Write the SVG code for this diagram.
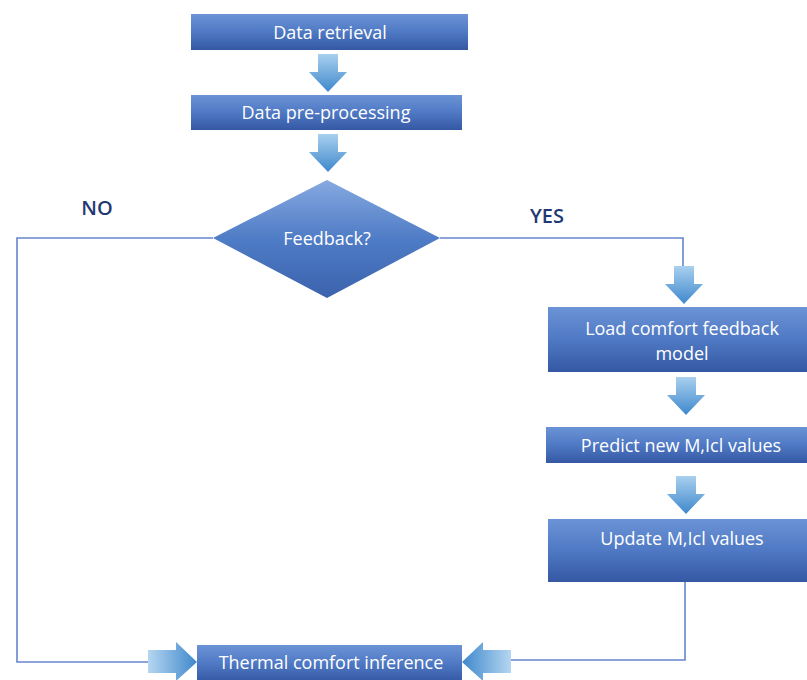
<svg xmlns="http://www.w3.org/2000/svg" width="807" height="680" viewBox="0 0 807 680">
<defs>
<linearGradient id="box" x1="0" y1="0" x2="0" y2="1">
<stop offset="0" stop-color="#6b93d6"/><stop offset="0.5" stop-color="#4f79c4"/><stop offset="1" stop-color="#3558a3"/>
</linearGradient>
<linearGradient id="dia" x1="0" y1="0" x2="0" y2="1">
<stop offset="0" stop-color="#86a9e0"/><stop offset="0.5" stop-color="#4f7cc6"/><stop offset="1" stop-color="#3b62ad"/>
</linearGradient>
<linearGradient id="arD" x1="0" y1="0" x2="0" y2="1">
<stop offset="0" stop-color="#a9d0ef"/><stop offset="1" stop-color="#3f88cc"/>
</linearGradient>
<linearGradient id="arR" x1="0" y1="0" x2="1" y2="0">
<stop offset="0" stop-color="#b5d6f1"/><stop offset="1" stop-color="#3f88cc"/>
</linearGradient>
<linearGradient id="arL" x1="1" y1="0" x2="0" y2="0">
<stop offset="0" stop-color="#b5d6f1"/><stop offset="1" stop-color="#3f88cc"/>
</linearGradient>
<path id="down" d="M-10,0 H10 V18 H19 L0,38 L-19,18 H-10 Z"/>
</defs>
<style>
.box{fill:url(#box)}
.t{fill:#fff;font-family:"Open Sans","Liberation Sans",sans-serif;font-size:18px;text-anchor:middle}
.lbl{fill:#1f3a72;font-family:"Open Sans","Liberation Sans",sans-serif;font-size:20px;font-weight:600;text-anchor:middle}
.ln{fill:none;stroke:#6585cc;stroke-width:1.6}
.ad{fill:url(#arD)}
</style>
<rect width="807" height="680" fill="#fff"/>
<g id="connectors">
<polyline class="ln" points="213,238 17,238 17,662 148,662"/>
<polyline class="ln" points="440,238 683,238 683,266"/>
<polyline class="ln" points="685,582 685,660 511,660"/>
<use href="#down" class="ad" x="328" y="54"/>
<use href="#down" class="ad" x="328" y="134"/>
<use href="#down" class="ad" x="684" y="266"/>
<use href="#down" class="ad" x="686" y="377"/>
<use href="#down" class="ad" x="686" y="476"/>
<path fill="url(#arR)" d="M148,650 H176 V642 L197,662 L176,681 V673 H148 Z"/>
<path fill="url(#arL)" d="M511,650 H483 V642 L462,662 L483,681 V673 H511 Z"/>
</g>
<g id="n1"><rect class="box" x="191" y="14" width="277" height="36"/><text class="t" x="330" y="38.5">Data retrieval</text></g>
<g id="n2"><rect class="box" x="191" y="95" width="271" height="35"/><text class="t" x="326" y="119">Data pre-processing</text></g>
<g id="n3"><polygon fill="url(#dia)" points="327,180 440,238 327,298 213,238"/><text class="t" x="327" y="245">Feedback?</text></g>
<g id="no"><text class="lbl" x="97" y="215">NO</text></g>
<g id="yes"><text class="lbl" x="547" y="223">YES</text></g>
<g id="n4"><rect class="box" x="548" y="307" width="259" height="65"/><text class="t" x="682" y="335">Load comfort feedback</text><text class="t" x="682" y="360">model</text></g>
<g id="n5"><rect class="box" x="546" y="427" width="261" height="36"/><text class="t" x="681" y="452">Predict new M,Icl values</text></g>
<g id="n6"><rect class="box" x="548" y="519" width="259" height="63"/><text class="t" x="682" y="545">Update M,Icl values</text></g>
<g id="n7"><rect class="box" x="197" y="645" width="265" height="37"/><text class="t" x="331" y="669">Thermal comfort inference</text></g>
</svg>
